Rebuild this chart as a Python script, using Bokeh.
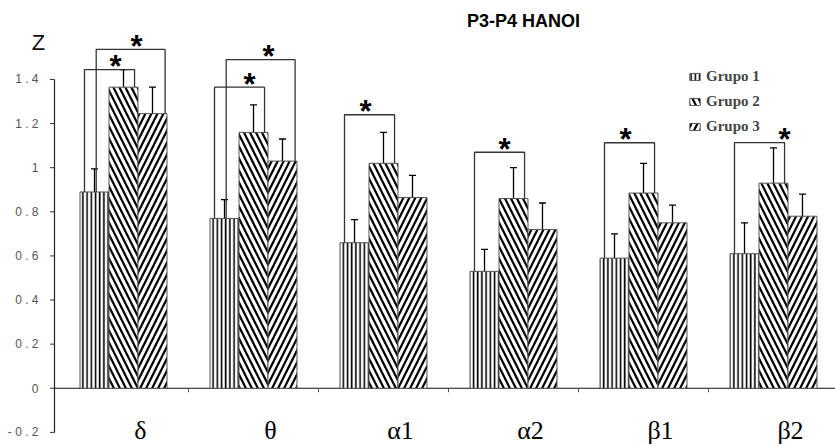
import numpy as np
from bokeh.plotting import figure
from bokeh.models import (ColumnDataSource, Whisker, TeeHead, Legend, LegendItem,
                          Label, Range1d)
from bokeh.core.properties import value
from bokeh.embed import file_html
from bokeh.resources import INLINE

# ---------------- data ----------------
bands = ["δ", "θ", "α1", "α2", "β1", "β2"]
groups = ["Grupo 1", "Grupo 2", "Grupo 3"]
grupo1 = [0.89, 0.77, 0.66, 0.53, 0.59, 0.61]
grupo2 = [1.365, 1.16, 1.02, 0.86, 0.885, 0.93]
grupo3 = [1.245, 1.03, 0.865, 0.72, 0.75, 0.78]
err1 = [0.105, 0.085, 0.105, 0.10, 0.11, 0.14]
err2 = [0.08, 0.125, 0.14, 0.14, 0.135, 0.16]
err3 = [0.12, 0.10, 0.10, 0.12, 0.08, 0.10]
yticks = [-0.2, 0, 0.2, 0.4, 0.6, 0.8, 1.0, 1.2, 1.4]
ytick_labels = ["- 0 . 2", "0", "0 . 2", "0 . 4", "0 . 6", "0 . 8", "1", "1 . 2", "1 . 4"]
y_name = "Z"
title = "P3-P4 HANOI"
# significance brackets: band index, compared group (2 or 3), bracket height
sig_band = [0, 0, 1, 1, 2, 3, 4, 5]
sig_group = [2, 3, 2, 3, 2, 2, 2, 2]
sig_top = [1.445, 1.536, 1.365, 1.49, 1.24, 1.07, 1.113, 1.114]
sig_star_dx = [6, 6, 10, 8, -4, 5, -4, 25]   # star offset in px (style)

# ---------------- layout ----------------
W, H = 835, 446
PX_PER_X = 130.0          # pixels per category
X_ORIGIN_PX = 58.0        # pixel of category boundary 0
AXIS_PX = 54.0            # pixel of the y axis line
X0 = (0 - X_ORIGIN_PX) / PX_PER_X
X1 = (W - X_ORIGIN_PX) / PX_PER_X
XA = (AXIS_PX - X_ORIGIN_PX) / PX_PER_X
Y0, Y1 = -0.264, 1.758
BAR_W = 0.223
offsets = [-BAR_W, 0.0, BAR_W]
centers = np.arange(len(bands)) + 0.5

p = figure(width=W, height=H, output_backend="svg", toolbar_location=None,
           x_range=Range1d(X0, X1), y_range=Range1d(Y0, Y1),
           x_axis_location=None, y_axis_location=None,
           min_border_left=0, min_border_right=0, min_border_top=0, min_border_bottom=0)
p.outline_line_color = None
p.xgrid.visible = False
p.ygrid.visible = False
p.background_fill_color = "white"
p.border_fill_color = "white"

# y axis (line, ticks, labels)
p.segment(x0=[XA], y0=[yticks[0]], x1=[XA], y1=[yticks[-1]], line_color="#222222", line_width=1.2)
p.segment(x0=np.full(len(yticks), XA - 4.5 / PX_PER_X), y0=yticks,
          x1=np.full(len(yticks), XA), y1=yticks, line_color="#333333", line_width=1)
p.text(x=np.full(len(yticks), XA - 16 / PX_PER_X), y=yticks, text=ytick_labels,
       text_align="right", text_baseline="middle", text_font=value("Liberation Sans"),
       text_font_size="12px", text_color="#555555")
p.text(x=[XA - 16 / PX_PER_X], y=[1.568], text=[y_name],
       text_align="center", text_baseline="middle", text_font=value("Liberation Sans"),
       text_font_size="22px", text_color="#111111")

# x axis line and ticks between categories
p.segment(x0=[XA], y0=[0], x1=[X1], y1=[0], line_color="#111111", line_width=1.2)
bounds = np.arange(1, len(bands))
p.segment(x0=bounds, y0=np.zeros(len(bounds)), x1=bounds, y1=np.full(len(bounds), -0.018),
          line_color="#555555", line_width=1)

# bars
series = [grupo1, grupo2, grupo3]
errs = [err1, err2, err3]
hatches = [dict(hatch_pattern="vertical_line", hatch_scale=4.2, hatch_weight=1.6),
           dict(hatch_pattern="left_diagonal_line", hatch_scale=12, hatch_weight=2.2),
           dict(hatch_pattern="right_diagonal_line", hatch_scale=12, hatch_weight=2.2)]
renderers = []
for k in range(3):
    src = ColumnDataSource(dict(x=centers + offsets[k], top=series[k],
                                upper=np.array(series[k]) + np.array(errs[k]),
                                lower=np.array(series[k]) - np.array(errs[k])))
    r = p.vbar(x="x", top="top", bottom=0, width=BAR_W, source=src,
               fill_color="white", line_color="#555555", line_width=1,
               hatch_color="black", **hatches[k])
    renderers.append(r)
    wk = Whisker(base="x", upper="upper", lower="lower", source=src, dimension="height",
                 line_color="black", line_width=1.3,
                 upper_head=TeeHead(size=7, line_color="black", line_width=1.3),
                 lower_head=TeeHead(size=7, line_color="black", line_width=1.3))
    p.add_layout(wk)

# significance brackets
xs, ys, sx, sy = [], [], [], []
left_off = {2: -0.30, 3: -0.21}
right_off = {2: 0.085, 3: 0.32}
for b, g, top, dx in zip(sig_band, sig_group, sig_top, sig_star_dx):
    xl = centers[b] + left_off[g]
    xr = centers[b] + right_off[g]
    xs.append([xl, xl, xr, xr])
    ys.append([grupo1[b], top, top, series[g - 1][b]])
    sx.append((xl + xr) / 2 + dx / PX_PER_X)
    sy.append(top)
p.multi_line(xs=xs, ys=ys, line_color="#333333", line_width=1.3)
p.text(x=sx, y=sy, text=["*"] * len(sx), y_offset=-3, text_align="center",
       text_baseline="middle", text_font=value("Liberation Sans"),
       text_font_style="bold", text_font_size="31px", text_color="black")

# category labels
p.text(x=centers, y=[yticks[0]] * len(bands), text=bands, x_offset=17, y_offset=-2,
       text_align="center", text_baseline="middle",
       text_font=value("Liberation Serif"), text_font_size="26px", text_color="black")

# title
p.add_layout(Label(x=3.577, y=1.665, text=title, text_align="center",
                   text_baseline="middle", text_font="Liberation Sans",
                   text_font_style="bold", text_font_size="18px", text_color="black"))

# legend
legend = Legend(items=[LegendItem(label=g, renderers=[r]) for g, r in zip(groups, renderers)],
                location=(688, 311), orientation="vertical",
                label_text_font="Liberation Serif", label_text_font_style="bold",
                label_text_font_size="15px", glyph_width=13, glyph_height=9,
                label_height=16, spacing=8, padding=0, margin=0, label_standoff=5,
                border_line_color=None, background_fill_alpha=0)
p.add_layout(legend)

open("out.html", "w").write(file_html(p, INLINE))
